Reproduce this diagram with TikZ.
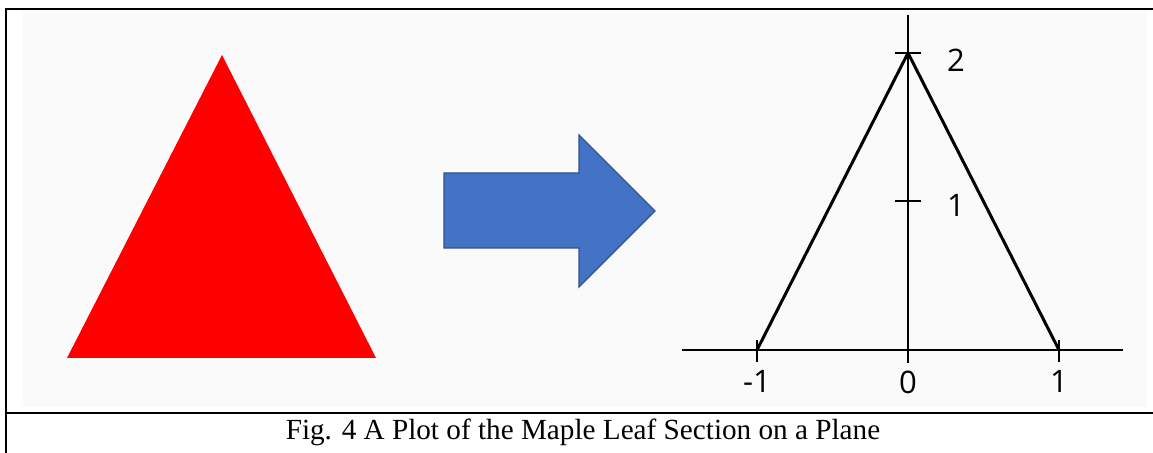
\documentclass[tikz,border=0pt]{standalone}
\usepackage{fontspec}
\setmainfont{Liberation Serif}
\newfontfamily\plotfont{Open Sans}
\usetikzlibrary{positioning}
\definecolor{leafred}{HTML}{FF0000}
\definecolor{arrowblue}{HTML}{4472C4}
\definecolor{arrowedge}{HTML}{2F528F}
\definecolor{panelgray}{HTML}{FAFAFA}
\tikzset{
  axisline/.style={line width=1pt},
  tickline/.style={line width=1pt},
  ticklabel/.style={font=\plotfont\fontsize{15.5}{18}\selectfont, inner sep=0pt},
  frameline/.style={line width=1.1pt},
}

\begin{document}
\begin{tikzpicture}[x=0.5pt,y=-0.5pt]
  \useasboundingbox (0,0) rectangle (1153,453);
  % figure frame and picture panel
  \fill[panelgray] (23,11) rectangle (1147,407);
  \draw[frameline] (1153,8.7) -- (5.8,8.7) -- (5.8,453);
  \draw[frameline] (5.8,413) -- (1153,413);
  % the leaf section
  \fill[leafred] (222,55) -- (376,358) -- (67,358) -- cycle;
  % block arrow
  \draw[fill=arrowblue, draw=arrowedge, line width=0.6pt, line join=miter]
    (444,173) -- (579,173) -- (579,135) -- (655,211) -- (579,287)
    -- (579,248) -- (444,248) -- cycle;
  % plot on the plane
  \coordinate (O) at (908,350);
  \begin{scope}[shift={(O)}, x=75.5pt, y=74.25pt]
    \draw[axisline] (-1.497,0) -- (1.424,0);
    \draw[axisline] (0,-0.088) -- (0,2.256);
    \foreach \t in {-1,0,1}
      \draw[tickline] (\t,0.067) -- (\t,-0.081);
    \foreach \t in {1,2}
      \draw[tickline] (-0.086,\t) -- (0.086,\t);
    \draw[line width=1.5pt, line join=miter] (-1,0) -- (0,2) -- (1,0);
    \node[ticklabel] (ylab2) at (0.318,1.95) {2};
    \node[ticklabel] (ylab1) at (0.318,0.976) {1};
    \node[ticklabel] (xlabm) at (-1,-0.215) {-1};
    \node[ticklabel] (xlab0) at (0,-0.215) {0};
    \node[ticklabel] (xlab1) at (1,-0.215) {1};
  \end{scope}
  % caption
  \node[font=\fontsize{14.6}{17}\selectfont, inner sep=0pt] (caption) at (583,432)
    {Fig. 4 A Plot of the Maple Leaf Section on a Plane};
\end{tikzpicture}
\end{document}
